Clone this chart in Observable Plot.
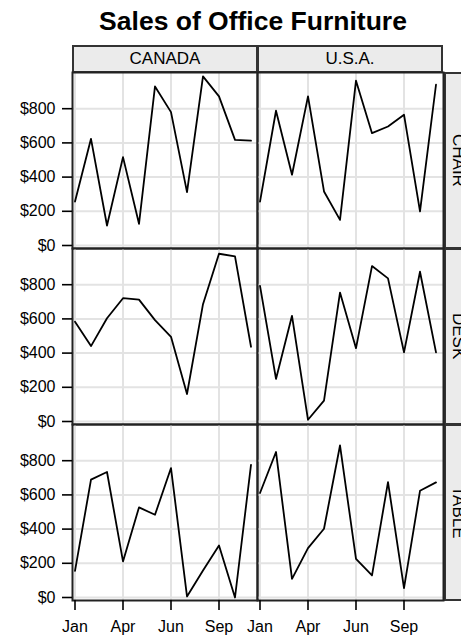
<!DOCTYPE html>
<html><head><meta charset="utf-8">
<script src="https://cdn.jsdelivr.net/npm/d3@7"></script>
<script src="https://cdn.jsdelivr.net/npm/@observablehq/plot@0.6"></script>
<style>
html,body{margin:0;padding:0;overflow:hidden;background:#fff;}
#root{position:relative;width:461px;height:637px;font-family:"Liberation Sans",Arial,sans-serif;color:#000;}
.title{position:absolute;top:8px;left:253px;transform:translateX(-50%);font-size:26.5px;line-height:26px;font-weight:bold;white-space:nowrap;}
.strip{position:absolute;box-sizing:border-box;background:#ebebeb;border:2px solid #333;font-size:17px;display:flex;align-items:center;justify-content:center;}
.vstrip span{writing-mode:vertical-rl;}
.panel{position:absolute;}
</style></head>
<body><div id="root"></div>
<script>
// ---- data ----
const months = ["Jan","Feb","Mar","Apr","May","Jun","Jul","Aug","Sep","Oct","Nov","Dec"];
const countries = ["CANADA", "U.S.A."];
const products = ["CHAIR", "DESK", "TABLE"];
const canadaChair = [257, 624, 117, 517, 127, 930, 780, 312, 989, 872, 618, 613];
const usaChair    = [257, 788, 414, 872, 316, 150, 964, 657, 696, 765, 199, 940];
const canadaDesk  = [584, 441, 604, 721, 713, 593, 495, 161, 686, 981, 966, 437];
const usaDesk     = [793, 249, 618, 10, 122, 754, 429, 909, 837, 404, 876, 404];
const canadaTable = [156, 689, 734, 211, 527, 484, 757, 6, 158, 304, 0, 776];
const usaTable    = [611, 851, 109, 289, 402, 889, 226, 129, 675, 55, 624, 673];
const xTickPos = [1, 4, 7, 10];
const xTickLabels = ["Jan", "Apr", "Jun", "Sep"];
const yTicks = [0, 200, 400, 600, 800];
const titleText = "Sales of Office Furniture";

const table = {
  "CANADA": {CHAIR: canadaChair, DESK: canadaDesk, TABLE: canadaTable},
  "U.S.A.": {CHAIR: usaChair, DESK: usaDesk, TABLE: usaTable}
};

// ---- layout ----
const root = document.getElementById("root");
const colX = [72, 257];
const colW = [185, 186];
const rowY = [72, 248, 424];
const panelH = 176;

const t = document.createElement("div");
t.className = "title"; t.textContent = titleText; root.appendChild(t);

countries.forEach((c, ci) => {
  const s = document.createElement("div");
  s.className = "strip";
  Object.assign(s.style, {left: colX[ci] + "px", top: "45px", width: (colW[ci] + (ci === 0 ? 1 : 0)) + "px", height: "28px"});
  s.textContent = c;
  root.appendChild(s);
});

products.forEach((p, ri) => {
  const s = document.createElement("div");
  s.className = "strip vstrip";
  Object.assign(s.style, {left: "444px", top: rowY[ri] + "px", width: "27px", height: (panelH + 1) + "px"});
  const sp = document.createElement("span"); sp.textContent = p; s.appendChild(sp);
  root.appendChild(s);
});

const font = '"Liberation Sans", Arial, sans-serif';

countries.forEach((c, ci) => {
  products.forEach((p, ri) => {
    const isLeft = ci === 0;
    const isBottom = ri === 2;
    const W = colW[ci];
    const mL = isLeft ? 72 : 0;
    const vals = table[c][p];
    const data = months.map((m, i) => ({month: i + 1, name: m, sales: vals[i]}));
    const chart = Plot.plot({
      width: mL + W,
      height: panelH + (isBottom ? 40 : 0),
      marginLeft: mL, marginRight: 0, marginTop: 2, marginBottom: 3 + (isBottom ? 40 : 0),
      style: {background: "transparent", overflow: "visible", fontFamily: font, fontSize: "16px", color: "black"},
      x: {domain: [1 - 2.5 / 16, 1 + (W - 2.5) / 16], axis: null},
      y: {domain: [0, 1000], axis: null},
      marks: [
        Plot.gridX(xTickPos, {stroke: "#e3e3e3", strokeOpacity: 1, strokeWidth: 2, insetTop: -2, insetBottom: -3}),
        Plot.gridY(yTicks, {stroke: "#e3e3e3", strokeOpacity: 1, strokeWidth: 2}),
        Plot.line(data, {x: "month", y: "sales", stroke: "black", strokeWidth: 1.8}),
        Plot.frame({stroke: "#222", strokeWidth: 2, insetTop: -2, insetBottom: -3}),
        isLeft ? Plot.axisY(yTicks, {label: null, tickSize: 10, tickPadding: 7, strokeWidth: 1.6, fontSize: 16, tickFormat: d => "$" + d}) : null,
        isBottom ? Plot.axisX(xTickPos, {label: null, tickSize: 10, tickPadding: 10, dy: 3, strokeWidth: 1.6, fontSize: 16, tickFormat: d => xTickLabels[xTickPos.indexOf(d)]}) : null
      ]
    });
    chart.classList.add("panel");
    chart.style.position = "absolute";
    chart.style.left = (isLeft ? 0 : colX[ci]) + "px";
    chart.style.top = rowY[ri] + "px";
    root.appendChild(chart);
  });
});
</script>
</body></html>
